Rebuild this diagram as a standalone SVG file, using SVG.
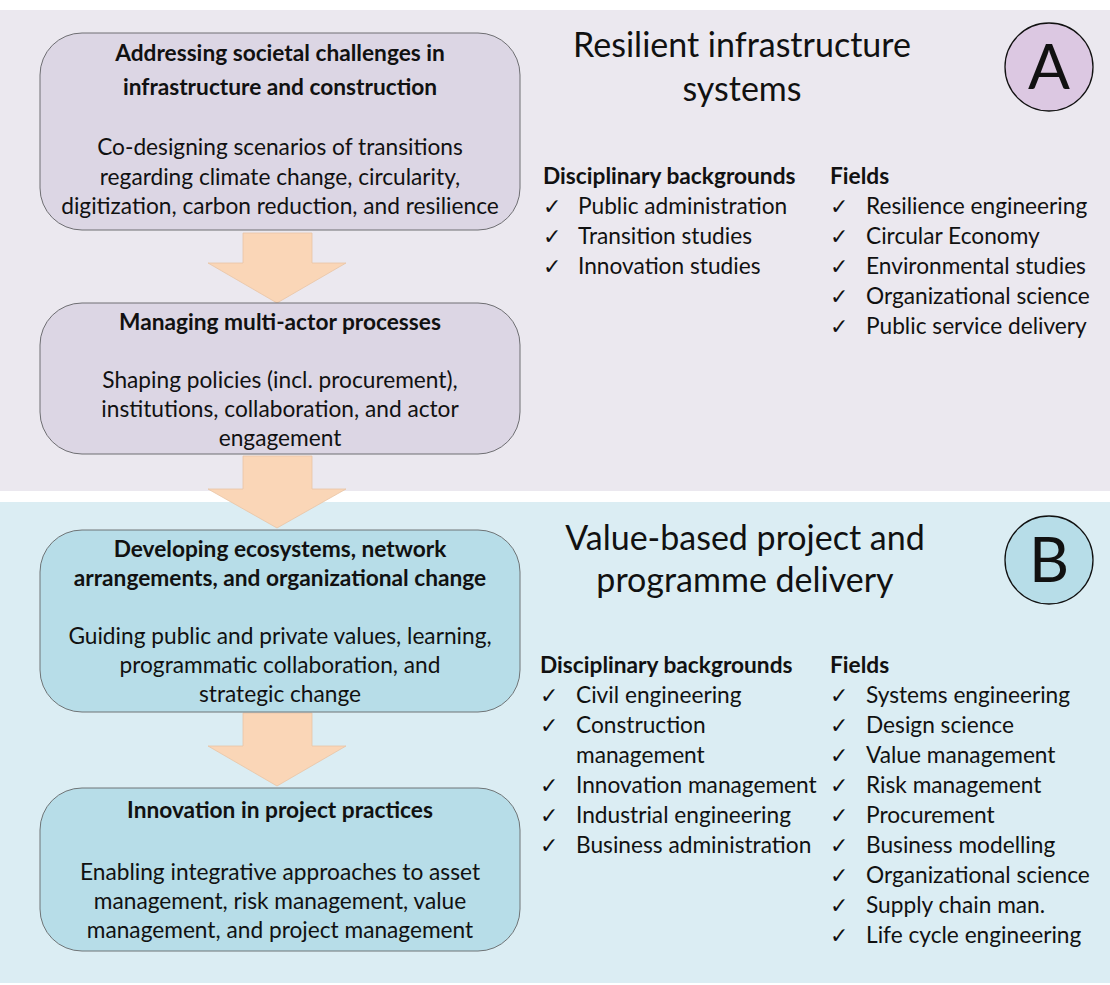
<svg xmlns="http://www.w3.org/2000/svg" width="1110" height="985" viewBox="0 0 1110 985">
<style>
.t{font-family:Lato,"Liberation Sans",sans-serif;fill:#111;}
.b{font-weight:bold;font-size:22.7px;}
.n{font-size:22.7px;}
.h{font-size:34px;}
.L{font-size:62px;}
.ck{font-family:"DejaVu Sans",sans-serif;font-size:22px;fill:#111;}
.boxA{fill:#dcd6e4;stroke:#6e6e72;stroke-width:1;}
.boxB{fill:#b7dde8;stroke:#6e7476;stroke-width:1;}
.arr{fill:#fad6b7;stroke:#e8c4a4;stroke-width:0.8;}
</style>
<rect x="0" y="0" width="1110" height="985" fill="#ffffff"/>
<rect id="panelA" x="0" y="10" width="1110" height="481" fill="#ebe8ef"/>
<rect id="panelB" x="0" y="502" width="1110" height="481" fill="#dbedf3"/>

<g id="connectors">
<polygon class="arr" points="243,233 312,233 312,263 346,263 277,303 208,263 243,263"/>
<polygon class="arr" points="243,456 312,456 312,489 346,489 277,528 208,489 243,489"/>
<polygon class="arr" points="243,713 312,713 312,746 346,746 277,786 208,746 243,746"/>
</g>

<g id="node1">
<rect class="boxA" x="40" y="33" width="480" height="197" rx="42"/>
<text class="t b" text-anchor="middle" x="280" y="61">Addressing societal challenges in</text>
<text class="t b" text-anchor="middle" x="280" y="95">infrastructure and construction</text>
<text class="t n" text-anchor="middle" x="280" y="155">Co-designing scenarios of transitions</text>
<text class="t n" text-anchor="middle" x="280" y="185">regarding climate change, circularity,</text>
<text class="t n" text-anchor="middle" x="280" y="214">digitization, carbon reduction, and resilience</text>
</g>
<g id="node2">
<rect class="boxA" x="40" y="303" width="480" height="151" rx="42"/>
<text class="t b" text-anchor="middle" x="280" y="330">Managing multi-actor processes</text>
<text class="t n" text-anchor="middle" x="280" y="388">Shaping policies (incl. procurement),</text>
<text class="t n" text-anchor="middle" x="280" y="417">institutions, collaboration, and actor</text>
<text class="t n" text-anchor="middle" x="280" y="446">engagement</text>
</g>
<g id="node3">
<rect class="boxB" x="40" y="530" width="480" height="182" rx="42"/>
<text class="t b" text-anchor="middle" x="280" y="557">Developing ecosystems, network</text>
<text class="t b" text-anchor="middle" x="280" y="586">arrangements, and organizational change</text>
<text class="t n" text-anchor="middle" x="280" y="644">Guiding public and private values, learning,</text>
<text class="t n" text-anchor="middle" x="280" y="673">programmatic collaboration, and</text>
<text class="t n" text-anchor="middle" x="280" y="702">strategic change</text>
</g>
<g id="node4">
<rect class="boxB" x="40" y="788" width="480" height="163" rx="42"/>
<text class="t b" text-anchor="middle" x="280" y="818">Innovation in project practices</text>
<text class="t n" text-anchor="middle" x="280" y="880">Enabling integrative approaches to asset</text>
<text class="t n" text-anchor="middle" x="280" y="909">management, risk management, value</text>
<text class="t n" text-anchor="middle" x="280" y="938">management, and project management</text>
</g>

<g id="titleA">
<text class="t h" text-anchor="middle" x="742" y="57">Resilient infrastructure</text>
<text class="t h" text-anchor="middle" x="742" y="101">systems</text>
</g>
<g id="circleA">
<circle cx="1049" cy="67" r="44" fill="#dcc8e2" stroke="#111" stroke-width="1.3"/>
<text class="t L" text-anchor="middle" x="1049" y="89">A</text>
</g>
<g id="listA1">
<text class="t b" x="543" y="184">Disciplinary backgrounds</text>
<text class="ck" x="543" y="214">✓</text><text class="t n" x="578" y="214">Public administration</text>
<text class="ck" x="543" y="244">✓</text><text class="t n" x="578" y="244">Transition studies</text>
<text class="ck" x="543" y="274">✓</text><text class="t n" x="578" y="274">Innovation studies</text>
</g>
<g id="listA2">
<text class="t b" x="830" y="184">Fields</text>
<text class="ck" x="830" y="214">✓</text><text class="t n" x="866" y="214">Resilience engineering</text>
<text class="ck" x="830" y="244">✓</text><text class="t n" x="866" y="244">Circular Economy</text>
<text class="ck" x="830" y="274">✓</text><text class="t n" x="866" y="274">Environmental studies</text>
<text class="ck" x="830" y="304">✓</text><text class="t n" x="866" y="304">Organizational science</text>
<text class="ck" x="830" y="334">✓</text><text class="t n" x="866" y="334">Public service delivery</text>
</g>

<g id="titleB">
<text class="t h" text-anchor="middle" x="745" y="550">Value-based project and</text>
<text class="t h" text-anchor="middle" x="745" y="592">programme delivery</text>
</g>
<g id="circleB">
<circle cx="1049" cy="560" r="44" fill="#b7dde8" stroke="#111" stroke-width="1.3"/>
<text class="t L" text-anchor="middle" x="1049" y="582">B</text>
</g>
<g id="listB1">
<text class="t b" x="540" y="673">Disciplinary backgrounds</text>
<text class="ck" x="540" y="703">✓</text><text class="t n" x="576" y="703">Civil engineering</text>
<text class="ck" x="540" y="733">✓</text><text class="t n" x="576" y="733">Construction</text>
<text class="t n" x="576" y="763">management</text>
<text class="ck" x="540" y="793">✓</text><text class="t n" x="576" y="793">Innovation management</text>
<text class="ck" x="540" y="823">✓</text><text class="t n" x="576" y="823">Industrial engineering</text>
<text class="ck" x="540" y="853">✓</text><text class="t n" x="576" y="853">Business administration</text>
</g>
<g id="listB2">
<text class="t b" x="830" y="673">Fields</text>
<text class="ck" x="830" y="703">✓</text><text class="t n" x="866" y="703">Systems engineering</text>
<text class="ck" x="830" y="733">✓</text><text class="t n" x="866" y="733">Design science</text>
<text class="ck" x="830" y="763">✓</text><text class="t n" x="866" y="763">Value management</text>
<text class="ck" x="830" y="793">✓</text><text class="t n" x="866" y="793">Risk management</text>
<text class="ck" x="830" y="823">✓</text><text class="t n" x="866" y="823">Procurement</text>
<text class="ck" x="830" y="853">✓</text><text class="t n" x="866" y="853">Business modelling</text>
<text class="ck" x="830" y="883">✓</text><text class="t n" x="866" y="883">Organizational science</text>
<text class="ck" x="830" y="913">✓</text><text class="t n" x="866" y="913">Supply chain man.</text>
<text class="ck" x="830" y="943">✓</text><text class="t n" x="866" y="943">Life cycle engineering</text>
</g>
</svg>
